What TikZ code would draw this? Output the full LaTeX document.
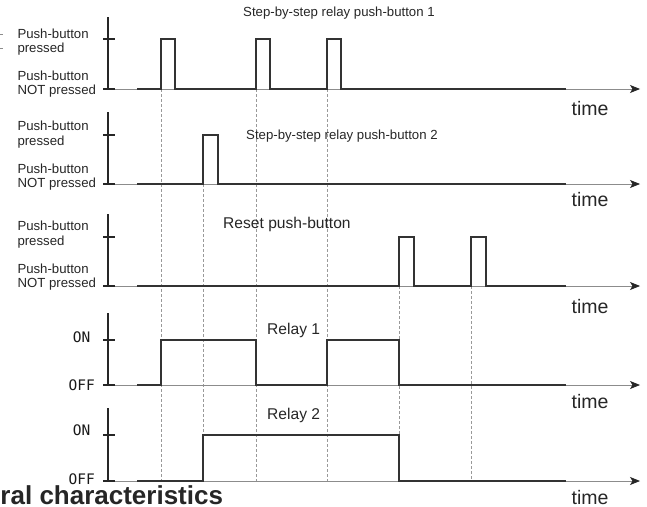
\documentclass[tikz,border=0pt]{standalone}
\usepackage{fontspec}
\setmainfont{Liberation Sans}
\newfontfamily\monof{DejaVu Sans Mono}
\usetikzlibrary{arrows.meta}
\begin{document}
\begin{tikzpicture}[x=1pt,y=-1pt,
  sig/.style={line width=1.7pt, draw=black!80, line join=miter},
  axisline/.style={line width=0.8pt, draw=black!45, -{Stealth[length=10pt,width=8pt,inset=2.5pt,color=black!85]}},
  yaxisline/.style={line width=1.3pt, draw=black!85},
  tickline/.style={line width=1.6pt, draw=black!85},
  guide/.style={line width=0.5pt, draw=black!40, dash pattern=on 3pt off 2pt},
  lab/.style={inner sep=0pt, anchor=base west, font=\fontsize{13.2}{14}\selectfont, text=black!85},
  ttl/.style={inner sep=0pt, anchor=base west, font=\fontsize{13.2}{14}\selectfont, text=black!85},
  bigttl/.style={inner sep=0pt, anchor=base west, font=\fontsize{15.6}{17}\selectfont, text=black!85},
  timelab/.style={inner sep=0pt, anchor=base west, font=\fontsize{19.5}{21}\selectfont, text=black!85},
  onoff/.style={inner sep=0pt, anchor=east, font=\monof\fontsize{14.5}{15}\selectfont, text=black!90},
]
\useasboundingbox (0,0) rectangle (647,506);

% guide lines
\draw[guide] (161,89) -- (161,481);
\draw[guide] (203,184) -- (203,481);
\draw[guide] (256,89) -- (256,481);
\draw[guide] (327,89) -- (327,481);
\draw[guide] (399,286) -- (399,481);
\draw[guide] (471,286) -- (471,481);

% axes: top, high, base
\foreach \t/\h/\b in {17/39/89, 112/135/184, 214/237/286, 313/340/385, 408/435/481}{
  \draw[yaxisline] (108,\t) -- (108,\b);
  \draw[tickline] (103,\h) -- (115,\h);
  \draw[tickline] (103,\b) -- (115,\b);
  \draw[axisline] (115,\b) -- (640,\b);
}

% signals
\draw[sig] (137,89) -- (161,89) -- (161,39) -- (175,39) -- (175,89) -- (256,89) -- (256,39) -- (270,39) -- (270,89) -- (327,89) -- (327,39) -- (341,39) -- (341,89) -- (566,89);
\draw[sig] (137,184) -- (203,184) -- (203,135) -- (218,135) -- (218,184) -- (566,184);
\draw[sig] (137,286) -- (399,286) -- (399,237) -- (414,237) -- (414,286) -- (471,286) -- (471,237) -- (486,237) -- (486,286) -- (566,286);
\draw[sig] (137,385) -- (161,385) -- (161,340) -- (256,340) -- (256,385) -- (327,385) -- (327,340) -- (399,340) -- (399,385) -- (566,385);
\draw[sig] (137,481) -- (203,481) -- (203,435) -- (399,435) -- (399,481) -- (566,481);

% small marks at top-left edge
\draw[line width=0.6pt, draw=black!45] (0,34) -- (3,34);
\draw[line width=0.6pt, draw=black!45] (0,48) -- (3,48);

% left labels
\node[lab] (p1a) at (17.3,38) {Push-button};
\node[lab] (p1b) at (17.3,52.5) {pressed};
\node[lab] (p1c) at (17.3,80.5) {Push-button};
\node[lab] (p1d) at (17.3,94.5) {NOT pressed};
\node[lab] (p2a) at (17.3,130.5) {Push-button};
\node[lab] (p2b) at (17.3,145) {pressed};
\node[lab] (p2c) at (17.3,173) {Push-button};
\node[lab] (p2d) at (17.3,187.5) {NOT pressed};
\node[lab] (p3a) at (17.3,230.5) {Push-button};
\node[lab] (p3b) at (17.3,245) {pressed};
\node[lab] (p3c) at (17.3,273) {Push-button};
\node[lab] (p3d) at (17.3,287.5) {NOT pressed};

\node[onoff] (on1) at (90.5,337) {ON};
\node[onoff] (off1) at (95,385) {OFF};
\node[onoff] (on2) at (90.5,430) {ON};
\node[onoff] (off2) at (95,479.5) {OFF};

% titles
\node[ttl] (t1) at (243,16.8) {Step-by-step relay push-button 1};
\node[ttl] (t2) at (246,139.5) {Step-by-step relay push-button 2};
\node[bigttl] (t3) at (223,228) {Reset push-button};
\node[bigttl] (t4) at (267,334.5) {Relay 1};
\node[bigttl] (t5) at (267,419) {Relay 2};

% time labels
\node[timelab] (tm1) at (571.5,115) {time};
\node[timelab] (tm2) at (571.5,206.5) {time};
\node[timelab] (tm3) at (571.5,313) {time};
\node[timelab] (tm4) at (571.5,408) {time};
\node[timelab] (tm5) at (571.5,504.5) {time};

% bottom heading (cut off)
\node[inner sep=0pt, anchor=base west, font=\bfseries\fontsize{26}{28}\selectfont, text=black!85] (gen) at (0.3,504.5) {ral characteristics};
\end{tikzpicture}
\end{document}
